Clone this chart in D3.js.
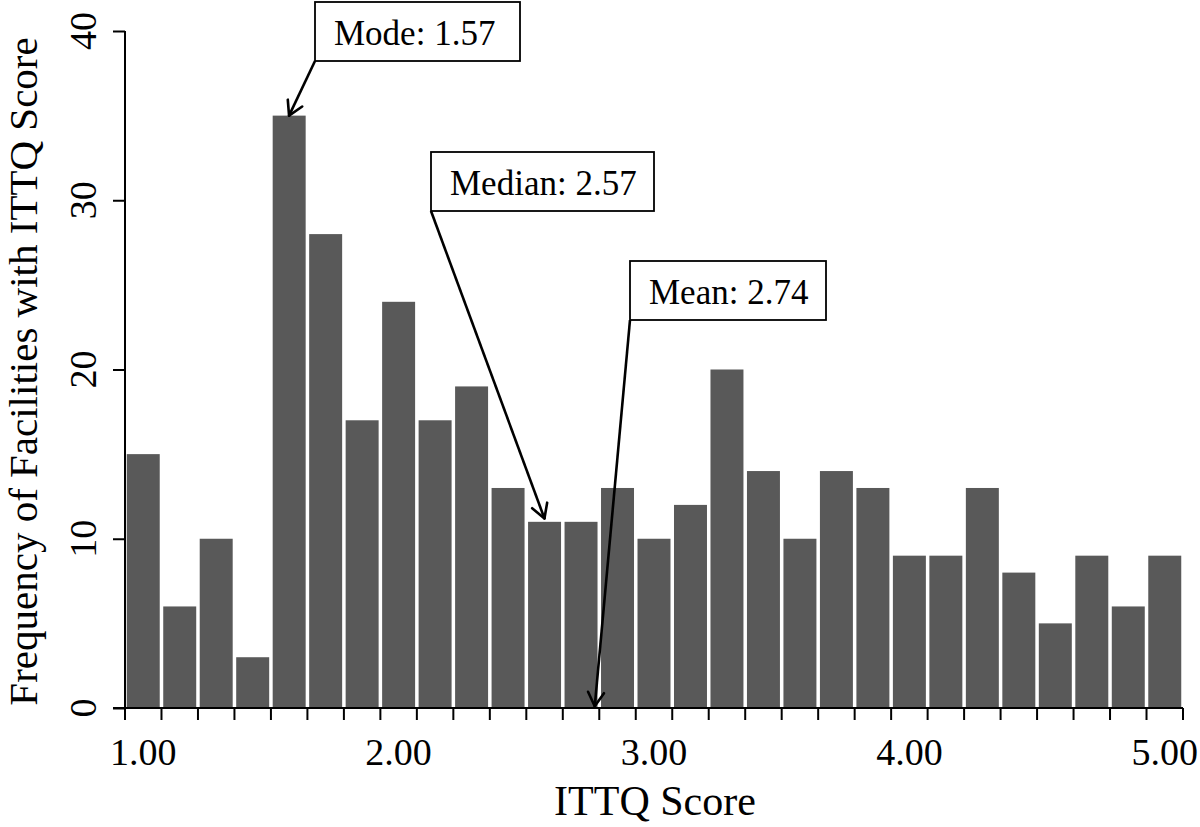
<!DOCTYPE html>
<html>
<head>
<meta charset="utf-8">
<script src="https://cdn.jsdelivr.net/npm/d3@7"></script>
<style>
  html, body { margin: 0; padding: 0; background: #fff; }
  svg { display: block; }
  text { font-family: "Liberation Serif", "Times New Roman", serif; fill: #000; }
</style>
</head>
<body>
<svg id="chart" width="1200" height="827"></svg>
<script>
// ---------------- data ----------------
const bins = ["1.00","1.14","1.29","1.43","1.57","1.71","1.86","2.00","2.14","2.29",
              "2.43","2.57","2.71","2.86","3.00","3.14","3.29","3.43","3.57","3.71",
              "3.86","4.00","4.14","4.29","4.43","4.57","4.71","4.86","5.00"];
const counts = [15, 6, 10, 3, 35, 28, 17, 24, 17, 19,
                13, 11, 11, 13, 10, 12, 20, 14, 10, 14,
                13, 9, 9, 13, 8, 5, 9, 6, 9];
const xTickLabels = ["1.00", "2.00", "3.00", "4.00", "5.00"];
const xTickValues = [1, 2, 3, 4, 5];
const yTickValues = [0, 10, 20, 30, 40];
const annotLabels = ["Mode: 1.57", "Median: 2.57", "Mean: 2.74"];
const annotTipX = [1.571, 2.571, 2.768];   // arrow tip, in ITTQ score units
const annotTipY = [35, 11.2, 0.1];         // arrow tip, in frequency units
const xTitle = "ITTQ Score";
const yTitle = "Frequency of Facilities with ITTQ Score";

// ---------------- layout ----------------
const L = { left: 125, right: 1183, top: 31, bottom: 708 };
const boxes = [ // pixel layout of annotation boxes
  { x: 315, y: 2,   w: 205, h: 59 },
  { x: 431, y: 152, w: 223, h: 59 },
  { x: 630, y: 261, w: 196, h: 59 }
];

const svg = d3.select("#chart");

const xBand = d3.scaleBand().domain(bins).range([L.left, L.right])
  .paddingInner(0.096).paddingOuter(0.048);
const step = xBand.step();
const xLin = d3.scaleLinear().domain([1, 5])
  .range([xBand("1.00") + xBand.bandwidth() / 2, xBand("5.00") + xBand.bandwidth() / 2]);
const y = d3.scaleLinear().domain([0, 40]).range([L.bottom, L.top]);

// bars
svg.append("g").selectAll("rect").data(bins).join("rect")
  .attr("x", d => xBand(d))
  .attr("y", (d, i) => y(counts[i]))
  .attr("width", xBand.bandwidth())
  .attr("height", (d, i) => y(0) - y(counts[i]))
  .attr("fill", "#595959");

// y axis
const yAxis = d3.axisLeft(y).tickValues(yTickValues).tickSize(12).tickFormat("");
const gy = svg.append("g").attr("transform", `translate(${L.left},0)`).call(yAxis);
gy.select(".domain").attr("d", `M0,${L.top}V${L.bottom}`).attr("stroke", "#000").attr("stroke-width", 2);
gy.selectAll(".tick line").attr("stroke", "#000").attr("stroke-width", 2);

svg.append("g").selectAll("text").data(yTickValues).join("text")
  .attr("transform", d => `translate(96,${y(d)}) rotate(-90)`)
  .attr("text-anchor", "middle")
  .style("font-size", "38px")
  .text(d => d);

// x axis: boundary ticks
const boundaries = d3.range(bins.length + 1).map(i => L.left + i * step);
const gx = svg.append("g");
gx.append("line").attr("x1", L.left - 12).attr("x2", L.right).attr("y1", L.bottom).attr("y2", L.bottom)
  .attr("stroke", "#000").attr("stroke-width", 2);
gx.selectAll("line.tk").data(boundaries).join("line").attr("class", "tk")
  .attr("x1", d => d).attr("x2", d => d).attr("y1", L.bottom).attr("y2", L.bottom + 12)
  .attr("stroke", "#000").attr("stroke-width", 2);

svg.append("g").selectAll("text").data(xTickValues).join("text")
  .attr("x", d => xLin(d))
  .attr("y", 765)
  .attr("text-anchor", "middle")
  .style("font-size", "38px")
  .text((d, i) => xTickLabels[i]);

// titles
svg.append("text")
  .attr("x", (L.left + L.right) / 2 + 1).attr("y", 815)
  .attr("text-anchor", "middle")
  .style("font-size", "42px")
  .text(xTitle);

svg.append("text")
  .attr("transform", `translate(37,${(L.top + 712) / 2}) rotate(-90)`)
  .attr("text-anchor", "middle")
  .style("font-size", "41px")
  .text(yTitle);

// annotations
const ag = svg.append("g");
annotLabels.forEach((lab, i) => {
  const b = boxes[i];
  const sx = b.x, sy = b.y + b.h;
  const tx = xLin(annotTipX[i]), ty = y(annotTipY[i]);
  ag.append("line").attr("x1", sx).attr("y1", sy).attr("x2", tx).attr("y2", ty)
    .attr("stroke", "#000").attr("stroke-width", 2.6);
  const ang = Math.atan2(sy - ty, sx - tx);
  const len = 16, spread = Math.PI / 6;
  [ang - spread, ang + spread].forEach(a => {
    ag.append("line").attr("x1", tx).attr("y1", ty)
      .attr("x2", tx + len * Math.cos(a)).attr("y2", ty + len * Math.sin(a))
      .attr("stroke", "#000").attr("stroke-width", 2.6).attr("stroke-linecap", "round");
  });
  ag.append("rect").attr("x", b.x).attr("y", b.y).attr("width", b.w).attr("height", b.h)
    .attr("fill", "#fff").attr("stroke", "#000").attr("stroke-width", 1.8);
  ag.append("text").attr("x", b.x + 19).attr("y", b.y + 43)
    .style("font-size", "35px").text(lab);
});
</script>
</body>
</html>
